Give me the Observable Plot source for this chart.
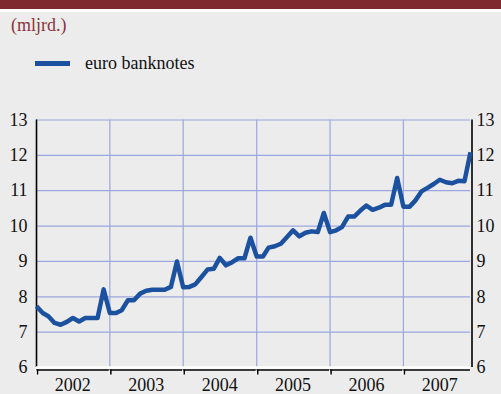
<!DOCTYPE html>
<html>
<head>
<meta charset="utf-8">
<script src="https://cdn.jsdelivr.net/npm/d3@7"></script>
<script src="https://cdn.jsdelivr.net/npm/@observablehq/plot@0.6"></script>
<style>
  html, body { margin: 0; padding: 0; background: #ececec; overflow: hidden; }
  body { width: 501px; height: 394px; font-family: "Liberation Serif", "DejaVu Serif", serif; }
  #header { position: relative; width: 501px; height: 100px; }
  #band { position: absolute; left: 0; top: 0; width: 501px; height: 9px; background: #7e2a2e; }
  #bandgap { position: absolute; left: 0; top: 9px; width: 501px; height: 3px; background: #ffffff; }
  #unit { position: absolute; left: 11px; top: 16.4px; font-size: 18px; line-height: 18px; color: #8a3438; white-space: nowrap; }
  #legline { position: absolute; left: 35px; top: 61px; width: 35px; height: 5px; background: #1c51a0; }
  #legtext { position: absolute; left: 85px; top: 54.2px; font-size: 18px; line-height: 18px; color: #111; white-space: nowrap; }
  #chart svg { display: block; }
</style>
</head>
<body>
<div id="header">
  <div id="band"></div>
  <div id="bandgap"></div>
  <div id="unit">(mljrd.)</div>
  <div id="legline"></div>
  <div id="legtext">euro banknotes</div>
</div>
<div id="chart"></div>
<script>
const years = [2002, 2003, 2004, 2005, 2006, 2007];
const seriesName = "euro banknotes";
const values = [
  7.73, 7.54, 7.45, 7.26, 7.21, 7.29, 7.40, 7.30, 7.40, 7.40, 7.40, 8.21,
  7.54, 7.54, 7.62, 7.90, 7.90, 8.09, 8.17, 8.20, 8.20, 8.20, 8.28, 9.00,
  8.27, 8.28, 8.35, 8.56, 8.77, 8.79, 9.10, 8.89, 8.98, 9.09, 9.09, 9.67,
  9.14, 9.14, 9.39, 9.43, 9.50, 9.69, 9.88, 9.71, 9.81, 9.85, 9.83, 10.37,
  9.83, 9.88, 9.97, 10.27, 10.27, 10.44, 10.58, 10.46, 10.52, 10.60, 10.60, 11.36,
  10.55, 10.55, 10.72, 10.98, 11.08, 11.19, 11.31, 11.24, 11.21, 11.28, 11.27, 12.09
];
const yTicks = [6, 7, 8, 9, 10, 11, 12, 13];

const data = values.map((v, i) => ({
  date: new Date(Date.UTC(years[0] + Math.floor(i / 12), i % 12, 1)),
  value: v
}));
const xStart = data[0].date;
const xEnd = data[data.length - 1].date;
const yearStarts = years.map(y => new Date(Date.UTC(y, 0, 1)));
const yearMids = years.map(y => new Date(Date.UTC(y, 6, 1)));
const gridColor = "#9ba6e0";

const chart = Plot.plot({
  width: 501,
  height: 294,
  marginLeft: 36,
  marginRight: 31,
  marginTop: 19.5,
  marginBottom: 27,
  style: { background: "transparent", fontFamily: "'Liberation Serif', serif", fontSize: "18px", color: "#111" },
  x: { type: "utc", domain: [xStart, xEnd], axis: null, label: null },
  y: { domain: [6, 13], axis: null, label: null },
  marks: [
    Plot.ruleY(yTicks.filter(d => d > 6), { stroke: gridColor, strokeWidth: 1.2 }),
    Plot.ruleX(yearStarts.slice(1), { stroke: gridColor, strokeWidth: 1.2 }),
    Plot.ruleX([xStart], { stroke: "#000", strokeWidth: 1.6 }),
    Plot.ruleX([xEnd], { stroke: "#000", strokeWidth: 1.6, dx: 1.5 }),
    Plot.ruleY([6], { stroke: "#fff", strokeWidth: 2.5 }),
    Plot.ruleY([6], { stroke: "#000", strokeWidth: 1.5, dy: 2.5, x1: xStart, x2: xEnd }),
    Plot.axisX(yearStarts, { tickSize: 5, tickFormat: () => "", label: null, dy: 2.5, dx: 1, stroke: "#000", strokeWidth: 1.5 }),
    Plot.axisX(yearStarts, { tickSize: 5, tickFormat: () => "", label: null, dy: 2.5, dx: -0.5, stroke: "#fff", strokeWidth: 1 }),
    Plot.axisX(yearMids, { tickSize: 0, tickPadding: 11, label: null, tickFormat: d => String(d.getUTCFullYear()), fontSize: 18, fill: "#111" }),
    Plot.axisY(yTicks, { anchor: "left", tickSize: 0, tickPadding: 9, label: null, fontSize: 18, fill: "#111" }),
    Plot.axisY(yTicks, { anchor: "right", tickSize: 0, tickPadding: 6, label: null, fontSize: 18, fill: "#111" }),
    Plot.line(data, { x: "date", y: "value", stroke: "#1c51a0", strokeWidth: 4.5, strokeLinejoin: "round", strokeLinecap: "butt" })
  ]
});
document.getElementById("chart").appendChild(chart);
</script>
</body>
</html>
